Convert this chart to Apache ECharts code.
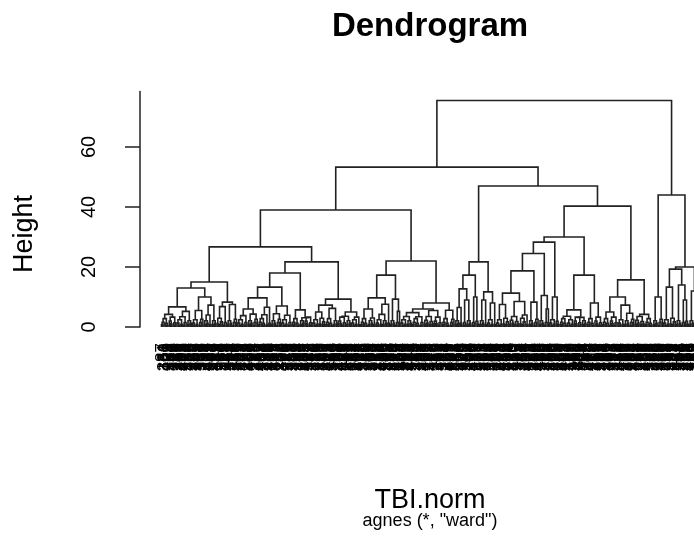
<!DOCTYPE html>
<html>
<head>
<meta charset="utf-8">
<script src="https://cdn.jsdelivr.net/npm/echarts@6/dist/echarts.min.js"></script>
<style>
  html, body { margin: 0; padding: 0; background: #fff; }
  #main { width: 694px; height: 546px; }
</style>
</head>
<body>
<div id="main"></div>
<script>
// small bushes at the bottom of the tree: [height, left, right], 0 = one leaf
var k2 = [0.7, 0, 0]
var k2b = [1.2, 0, 0]
var k3 = [1.5, [0.6, 0, 0], 0]
var k3b = [1.9, 0, [0.9, 0, 0]]
var k4 = [2.1, [0.8, 0, 0], [1.2, 0, 0]]
var k4b = [2.6, [1.5, [0.5, 0, 0], 0], 0]
var k5 = [2.4, [1.3, 0, [0.6, 0, 0]], [0.9, 0, 0]]
var k5b = [2.9, [1.0, 0, 0], [1.7, [0.8, 0, 0], 0]]
var k6 = [2.8, [1.6, [0.7, 0, 0], 0], [1.2, 0, [0.5, 0, 0]]]
var k6b = [3.3, [2.0, 0, [1.1, 0, 0]], [1.4, [0.6, 0, 0], 0]]
var k8 = [3.5, [2.2, [0.9, 0, 0], [1.3, 0, 0]], [1.8, [0.8, 0, 0], [1.0, 0, 0]]]

// merges (heights)
var L6 = [15, [13, [6.7, [4.2, k6, k6b], [5.2, [3.4, k5, k3], k4]],
                   [10, [5.5, k5, k4b], [7.3, [4.0, k4, k2], k4]]],
              [8.3, [6.8, k5b, k3], [7.5, k4, k4b]]]
var L7 = [21.7, [18, [13.3, [9.7, [6.0, [3.8, k5, k3], [4.3, k4, k4b]],
                                  [6.6, [4.1, k6, k2], k2b]],
                            [7.0, [4.4, k4, k4b], [3.9, k5, k3]]],
                     [5.7, k6, [3.1, k4, k6b]]],
                [9.3, [7.3, [5.0, k5, k5b], [6.2, k6, k4]],
                      [5.0, [3.6, k6b, k4], [3.3, k5, k2]]]]
var L8 = [17.3, [9.7, [6.0, k6, [3.0, k4, k2]], [7.6, [4.2, k5, k4], k2b]],
                [9.3, k4, [5.2, k3, 0]]]
var L9 = [8, [6.0, [4.8, [3.5, k5, k4], [3.4, k6, k3]], [5.5, k8, k6b]],
             [5.6, k6, k4b]]
var L10 = [21.7, [17.3, [12.7, [6.5, k4, k2b], [9.0, k3, k4]], [10.0, k3, k3b]],
                 [11.7, [9.0, k4, k2], [8.0, k5, k2]]]
var L11 = [40.3, [30, [28.3, [24.5, [18.7, [11.3, [7.5, k5, k5b], [8.5, k8, [4.0, k5b, k2]]],
                                           [8.3, k4, k4b]],
                                    [10.5, k4, [6.0, k3, 0]]],
                             [10, k5, k3b]],
                       [17.3, [5.7, [3.6, k6, k5], [3.2, k6b, k4]], [8.0, k6, k6b]]],
                 [15.7, [10, [5.0, k6, k6b], [7.3, k5, [4.6, k4, k4b]]],
                        [4.2, k8, k6]]]
var R1 = [44, [10, k4, k4b],
              [20, [19.3, [13.3, k5, k5b], [14, k4, [9, k3, k3b]]], [12, k4, k4b]]]
var tree = [75.5, [53.3, [39, [26.7, L6, L7], [22, L8, L9]], [47, L10, L11]], R1]

var leafLabels = ('214 87 331 156 402 29 268 377 143 95 310 188 256 41 367 122 295 409 73 230 ' +
  '184 352 16 277 139 398 62 245 319 108 171 386 52 290 227 134 415 99 341 203 ' +
  '266 11 389 147 312 78 236 360 195 24 283 411 166 57 324 112 250 379 138 69 ' +
  '301 219 47 393 176 263 128 348 85 406 192 34 275 153 337 241 103 418 64 208 ' +
  '356 131 286 19 374 160 229 91 343 397 117 252 38 309 181 420 76 270 145 323 ' +
  '58 213 388 107 299 164 44 362 233 126 281 15 404 197 335 82 248 371 150 28 ' +
  '316 173 259 96 382 140 51 305 221 413 118 264 33 346 189 72 292 158 400 239 ' +
  '111 327 65 279 206 383 135 22 354 247 168 94 307 412 53 226 375 142 289 186 ' +
  '39 260 334 101 391 170 215 68 318 254 125 408 45 296 199 364 83 238 149 370 ' +
  '274 12 339 162 225 394 106 287 56 358 211 129 416 74 304 183 243 30 381 154 ' +
  '322 98 267 405 137 60 293 217 349 115 26 385 175 257 89 313 196 42 372 234 ' +
  '121 300 159 407 67 282 222 345 18 261 179 396 104 329 48 240 363 144 84 298 ' +
  '193 419 36 271 133 357 209 77 315 253 161 390 21 284 120 342 231 99 376 166 ' +
  '49 308 201 414 86 262 146 336 14 294 218 380 110 353 172 63 325 244 27 387 ' +
  '124 276 190 401 71 303 235 148 366 40 258 114 410 182 332 90 220 368 132 54 ' +
  '285 13 350 205 97 378 169 249 61 320 141 403 223 37 297 116 359 187 80 265 ' +
  '151 395 46 311 200 127 384 66 242 340 174 23 417 109 278 216 59 361 136 291 ' +
  '81 328 194 255 35 399 157 302 93 237 371 119 272 50 344 178 412 100 251 207 ' +
  '17 369 130 288 224 392 75 314 163 43 279 198 355 88 232 406 152 25 321 269 ' +
  '185 338 70 246 123 379 20 306 212 165 398 55 273 135 351 92 228 411 177 31 ' +
  '292 144 365 210 79 333 191 256 418 105 280 39 317 167 204 373 113 250 58 347').split(' ')

var yTicks = [0, 20, 40, 60]

// walk the tree: leaves get positions 0..n-1, each merge becomes [xl, hl, xr, hr, h]
var merges = []
var nLeaves = 0
function walk (node) {
  if (node === 0) {
    return { x: nLeaves++, h: 0 }
  }
  var a = walk(node[1])
  var b = walk(node[2])
  merges.push([a.x, a.h, b.x, b.h, node[0]])
  return { x: (a.x + b.x) / 2, h: node[0] }
}
walk(tree)
var leafIdx = []
for (var i = 0; i < nLeaves; i++) leafIdx.push(i)

var font = '"Liberation Sans", Arial, Helvetica, sans-serif'
var chart = echarts.init(document.getElementById('main'))
chart.setOption({
  animation: false,
  backgroundColor: '#fff',
  title: [{
    text: 'Dendrogram',
    left: 430, top: 10, padding: 0, textAlign: 'center',
    textStyle: { fontSize: 33, fontWeight: 'bold', color: '#000', fontFamily: font }
  }, {
    text: 'agnes (*, "ward")',
    left: 430, top: 512, padding: 0, textAlign: 'center',
    textStyle: { fontSize: 18, fontWeight: 'normal', color: '#000', fontFamily: font }
  }],
  graphic: [{
    type: 'text',
    x: 25, y: 234, rotation: Math.PI / 2,
    style: { text: 'Height', fill: '#000', font: '27px ' + font, textAlign: 'center', textVerticalAlign: 'middle' }
  }],
  grid: { left: 140, right: -26, top: 91.5, bottom: 219, outerBoundsMode: 'none', containLabel: false },
  xAxis: {
    type: 'value',
    min: -0.04 * (nLeaves - 1),
    max: 1.04 * (nLeaves - 1),
    name: 'TBI.norm', nameLocation: 'middle', nameGap: 160,
    nameTextStyle: { fontSize: 27, color: '#000', fontFamily: font },
    axisLine: { show: false },
    axisTick: { show: false },
    splitLine: { show: false },
    axisLabel: {
      customValues: leafIdx,
      formatter: function (v) { return leafLabels[v] || String(v + 1) },
      rotate: 90, margin: 16, fontSize: 17, color: '#000', fontFamily: font,
      hideOverlap: false
    }
  },
  yAxis: {
    type: 'value', min: 0, max: 78.5,
    axisLine: { show: true, onZero: false, lineStyle: { color: '#222', width: 1.5 } },
    axisTick: { show: true, length: 15, customValues: yTicks, lineStyle: { color: '#222', width: 1.5 } },
    axisLabel: { customValues: yTicks, rotate: 90, margin: 41, fontSize: 20, color: '#000', fontFamily: font },
    splitLine: { show: false }
  },
  series: [{
    type: 'custom',
    data: merges,
    encode: { x: [0, 2], y: [1, 3, 4] },
    renderItem: function (params, api) {
      var p1 = api.coord([api.value(0), api.value(1)])
      var p2 = api.coord([api.value(0), api.value(4)])
      var p3 = api.coord([api.value(2), api.value(4)])
      var p4 = api.coord([api.value(2), api.value(3)])
      return {
        type: 'polyline',
        shape: { points: [p1, p2, p3, p4] },
        style: { fill: null, stroke: '#222', lineWidth: 1.6 }
      }
    }
  }]
})
</script>
</body>
</html>
